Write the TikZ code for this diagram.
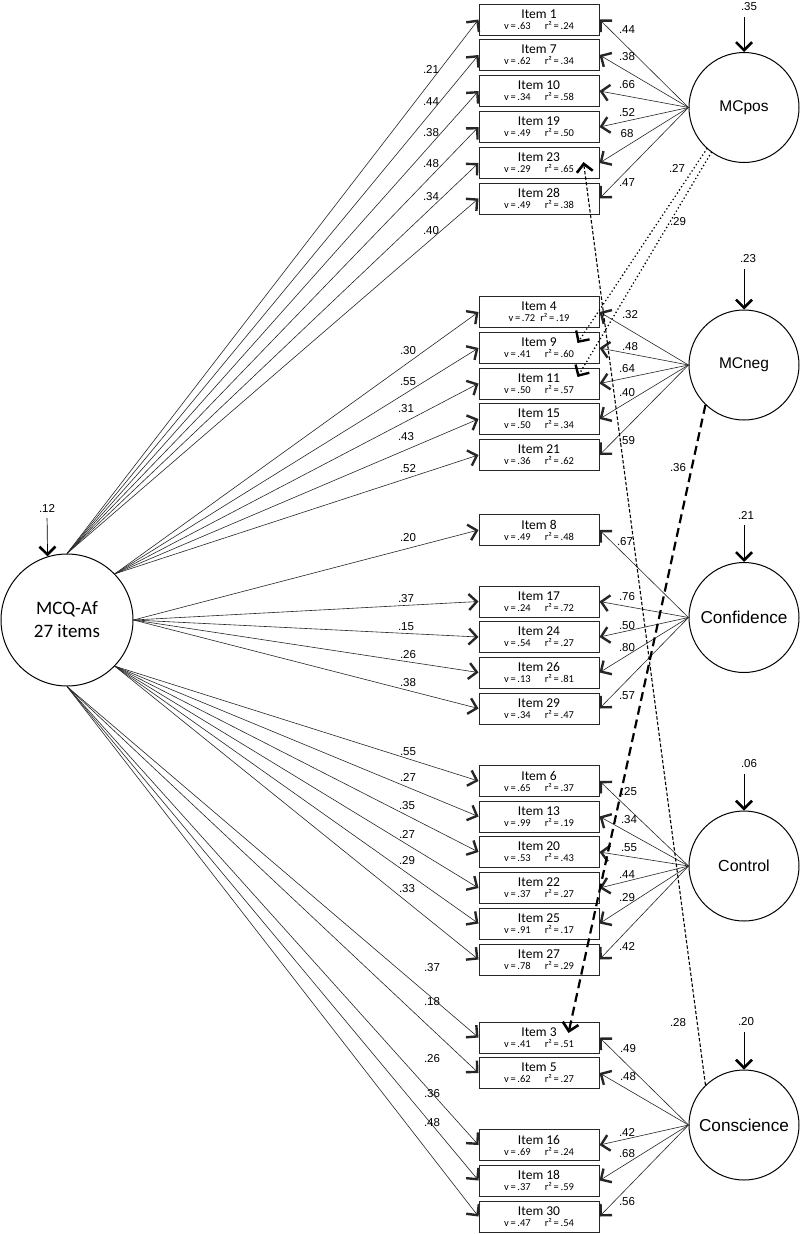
\documentclass[tikz,border=0pt]{standalone}
\usepackage{fontspec}
\setmainfont{Liberation Sans}
\newfontfamily\calib{Carlito}
\usetikzlibrary{arrows.meta}

\tikzset{
  item/.style={draw=black!85, line width=1pt, minimum width=120pt, minimum height=31pt, inner sep=0pt, align=center, font=\calib\fontsize{13.5}{12}\selectfont},
  latent/.style={draw, circle, line width=1pt, minimum size=110pt, inner sep=0pt},
  load/.style={draw=black!85, line width=0.6pt, -{Straight Barb[length=8pt,width=16pt,line width=2.4pt]}},
  err/.style={line width=0.7pt, shorten <=5pt, -{Straight Barb[length=8pt,width=16pt,line width=2.6pt]}},
  dotcov/.style={line width=1.8pt, line cap=round, dash pattern=on 0pt off 3.8pt, -{Straight Barb[length=8pt,width=16pt,line width=2.4pt]}},
  dashbig/.style={line width=2.2pt, dash pattern=on 9pt off 5pt, -{Straight Barb[length=8pt,width=16pt,line width=2.6pt]}},
  dashsmall/.style={line width=1.1pt, dash pattern=on 3.5pt off 2pt, -{Straight Barb[length=8pt,width=16pt,line width=2.6pt]}},
  num/.style={font=\fontsize{11.5}{12}\selectfont, inner sep=1pt},
}
\newcommand{\vr}[3][14pt]{\\[-1pt]{\fontsize{10.5}{11}\selectfont v\,=\,#2\hspace{#1}r²\,=\,#3}}

\begin{document}
\begin{tikzpicture}[x=1pt, y=-1pt]
  \useasboundingbox[fill=white] (0,0) rectangle (800,1234);

  % observed items
  \node[item] (i1) at (539,19.5) {Item 1\vr{.63}{.24}};
  \node[item] (i7) at (539,55) {Item 7\vr{.62}{.34}};
  \node[item] (i10) at (539,91) {Item 10\vr{.34}{.58}};
  \node[item] (i19) at (539,127) {Item 19\vr{.49}{.50}};
  \node[item] (i23) at (539,163) {Item 23\vr{.29}{.65}};
  \node[item] (i28) at (539,198.5) {Item 28\vr{.49}{.38}};

  \node[item] (i4) at (539,312) {Item 4\vr[5pt]{.72}{.19}};
  \node[item] (i9) at (539,348) {Item 9\vr{.41}{.60}};
  \node[item] (i11) at (539,383.5) {Item 11\vr{.50}{.57}};
  \node[item] (i15) at (539,419) {Item 15\vr{.50}{.34}};
  \node[item] (i21) at (539,455) {Item 21\vr{.36}{.62}};

  \node[item] (i8) at (539,530) {Item 8\vr{.49}{.48}};
  \node[item] (i17) at (539,601.5) {Item 17\vr{.24}{.72}};
  \node[item] (i24) at (539,637) {Item 24\vr{.54}{.27}};
  \node[item] (i26) at (539,672.5) {Item 26\vr{.13}{.81}};
  \node[item] (i29) at (539,708.5) {Item 29\vr{.34}{.47}};

  \node[item] (i6) at (539,781) {Item 6\vr{.65}{.37}};
  \node[item] (i13) at (539,816.5) {Item 13\vr{.99}{.19}};
  \node[item] (i20) at (539,852) {Item 20\vr{.53}{.43}};
  \node[item] (i22) at (539,888) {Item 22\vr{.37}{.27}};
  \node[item] (i25) at (539,923.5) {Item 25\vr{.91}{.17}};
  \node[item] (i27) at (539,959.5) {Item 27\vr{.78}{.29}};

  \node[item] (i3) at (539,1037.5) {Item 3\vr{.41}{.51}};
  \node[item] (i5) at (539,1073) {Item 5\vr{.62}{.27}};
  \node[item] (i16) at (539,1145) {Item 16\vr{.69}{.24}};
  \node[item] (i18) at (539,1180.5) {Item 18\vr{.37}{.59}};
  \node[item] (i30) at (539,1216.5) {Item 30\vr{.47}{.54}};

  % latent factors
  \node[latent, minimum size=132pt, align=center, font=\calib\fontsize{19}{23}\selectfont] (mcq) at (67,620) {MCQ-Af\\27 items};
  \node[latent, font=\fontsize{15.5}{16}\selectfont] (mcpos) at (744,107.5) {MCpos};
  \node[latent, font=\fontsize{15.5}{16}\selectfont] (mcneg) at (744,365) {MCneg};
  \node[latent, font=\fontsize{17.2}{18}\selectfont] (conf) at (744,617.5) {Confidence};
  \node[latent, font=\fontsize{16}{16}\selectfont] (contr) at (744,866) {Control};
  \node[latent, font=\fontsize{17.2}{18}\selectfont] (consc) at (744,1125) {Conscience};

  % residuals
  \node[num] (e0) at (47,508) {.12};
  \draw[err] (e0.south) -- (mcq.107);
  \node[num] (e1) at (749,7) {.35};
  \draw[err] (e1.south -| mcpos.north) -- (mcpos.north);
  \node[num] (e2) at (748,259) {.23};
  \draw[err] (e2.south -| mcneg.north) -- (mcneg.north);
  \node[num] (e3) at (746,515) {.21};
  \draw[err] (e3.south -| conf.north) -- (conf.north);
  \node[num] (e4) at (749,764) {.06};
  \draw[err] (e4.south -| contr.north) -- (contr.north);
  \node[num] (e5) at (746,1022) {.20};
  \draw[err] (e5.south -| consc.north) -- (consc.north);

  % general factor loadings
  \draw[load] (mcq.90) -- (i1.west);  \node[num] (g1) at (431,69) {.21};
  \draw[load] (mcq.90) -- (i7.west);  \node[num] (g7) at (431,102) {.44};
  \draw[load] (mcq.90) -- (i10.west); \node[num] (g10) at (431,133) {.38};
  \draw[load] (mcq.90) -- (i19.west); \node[num] (g19) at (431,164) {.48};
  \draw[load] (mcq.90) -- (i23.west); \node[num] (g23) at (431,197) {.34};
  \draw[load] (mcq.90) -- (i28.west); \node[num] (g28) at (431,231) {.40};

  \draw[load] (mcq.44) -- (i4.west);  \node[num] (g4) at (408,351) {.30};
  \draw[load] (mcq.44) -- (i9.west);  \node[num] (g9) at (408,382) {.55};
  \draw[load] (mcq.44) -- (i11.west); \node[num] (g11) at (406,409) {.31};
  \draw[load] (mcq.44) -- (i15.west); \node[num] (g15) at (406,437) {.43};
  \draw[load] (mcq.44) -- (i21.west); \node[num] (g21) at (408,469) {.52};

  \draw[load] (mcq.0) -- (i8.west);  \node[num] (g8) at (408,538) {.20};
  \draw[load] (mcq.0) -- (i17.west); \node[num] (g17) at (406,599) {.37};
  \draw[load] (mcq.0) -- (i24.west); \node[num] (g24) at (406,627) {.15};
  \draw[load] (mcq.0) -- (i26.west); \node[num] (g26) at (408,655) {.26};
  \draw[load] (mcq.0) -- (i29.west); \node[num] (g29) at (408,683) {.38};

  \draw[load] (mcq.-44) -- (i6.west);  \node[num] (g6) at (408,752) {.55};
  \draw[load] (mcq.-44) -- (i13.west); \node[num] (g13) at (408,777) {.27};
  \draw[load] (mcq.-44) -- (i20.west); \node[num] (g20) at (407,806) {.35};
  \draw[load] (mcq.-44) -- (i22.west); \node[num] (g22) at (407,834) {.27};
  \draw[load] (mcq.-44) -- (i25.west); \node[num] (g25) at (407,861) {.29};
  \draw[load] (mcq.-44) -- (i27.west); \node[num] (g27) at (407,889) {.33};

  \draw[load] (mcq.-90) -- (i3.west);  \node[num] (g3) at (432,968) {.37};
  \draw[load] (mcq.-90) -- (i5.west);  \node[num] (g5) at (432,1002) {.18};
  \draw[load] (mcq.-90) -- (i16.west); \node[num] (g16) at (432,1059) {.26};
  \draw[load] (mcq.-90) -- (i18.west); \node[num] (g18) at (432,1094) {.36};
  \draw[load] (mcq.-90) -- (i30.west); \node[num] (g30) at (432,1123) {.48};

  % specific factor loadings
  \draw[load] (mcpos.west) -- (i1.east);  \node[num] (s1) at (627,30) {.44};
  \draw[load] (mcpos.west) -- (i7.east);  \node[num] (s7) at (627,57) {.38};
  \draw[load] (mcpos.west) -- (i10.east); \node[num] (s10) at (627,85) {.66};
  \draw[load] (mcpos.west) -- (i19.east); \node[num] (s19) at (627,113) {.52};
  \draw[load] (mcpos.west) -- (i23.east); \node[num] (s23) at (627,134) {68};
  \draw[load] (mcpos.west) -- (i28.east); \node[num] (s28) at (627,183) {.47};

  \draw[load] (mcneg.west) -- (i4.east);  \node[num] (s4) at (630,315) {.32};
  \draw[load] (mcneg.west) -- (i9.east);  \node[num] (s9) at (630,347) {.48};
  \draw[load] (mcneg.west) -- (i11.east); \node[num] (s11) at (627,369) {.64};
  \draw[load] (mcneg.west) -- (i15.east); \node[num] (s15) at (627,393) {.40};
  \draw[load] (mcneg.west) -- (i21.east); \node[num] (s21) at (627,441) {.59};

  \draw[load] (conf.west) -- (i8.east);  \node[num] (s8) at (625,542) {.67};
  \draw[load] (conf.west) -- (i17.east); \node[num] (s17) at (627,597) {.76};
  \draw[load] (conf.west) -- (i24.east); \node[num] (s24) at (627,626) {.50};
  \draw[load] (conf.west) -- (i26.east); \node[num] (s26) at (627,648) {.80};
  \draw[load] (conf.west) -- (i29.east); \node[num] (s29) at (627,696) {.57};

  \draw[load] (contr.west) -- (i6.east);  \node[num] (s6) at (629,792) {.25};
  \draw[load] (contr.west) -- (i13.east); \node[num] (s13) at (629,820) {.34};
  \draw[load] (contr.west) -- (i20.east); \node[num] (s20) at (629,848) {.55};
  \draw[load] (contr.west) -- (i22.east); \node[num] (s22) at (627,875) {.44};
  \draw[load] (contr.west) -- (i25.east); \node[num] (s25) at (627,898) {.29};
  \draw[load] (contr.west) -- (i27.east); \node[num] (s27) at (627,946) {.42};

  \draw[load] (consc.west) -- (i3.east);  \node[num] (s3) at (628,1049) {.49};
  \draw[load] (consc.west) -- (i5.east);  \node[num] (s5) at (628,1077) {.48};
  \draw[load] (consc.west) -- (i16.east); \node[num] (s16) at (627,1132) {.42};
  \draw[load] (consc.west) -- (i18.east); \node[num] (s18) at (627,1154) {.68};
  \draw[load] (consc.west) -- (i30.east); \node[num] (s30) at (627,1202) {.56};

  % cross paths
  \draw[dotcov] (mcpos.228) -- ([xshift=-22pt,yshift=5pt]i9.east);
  \draw[dotcov] (mcpos.234) -- ([xshift=-22pt,yshift=6.5pt]i11.east);
  \node[num] (x1) at (677,168) {.27};
  \node[num] (x2) at (678,222) {.29};
  \draw[dashbig] (mcneg.226) -- ([xshift=-31pt,yshift=4.5pt]i3.east);
  \node[num] (x3) at (678,468) {.36};
  \draw[dashsmall] (consc.134) -- ([xshift=-16pt,yshift=1pt]i23.east);
  \node[num] (x4) at (678,1023) {.28};
\end{tikzpicture}
\end{document}
